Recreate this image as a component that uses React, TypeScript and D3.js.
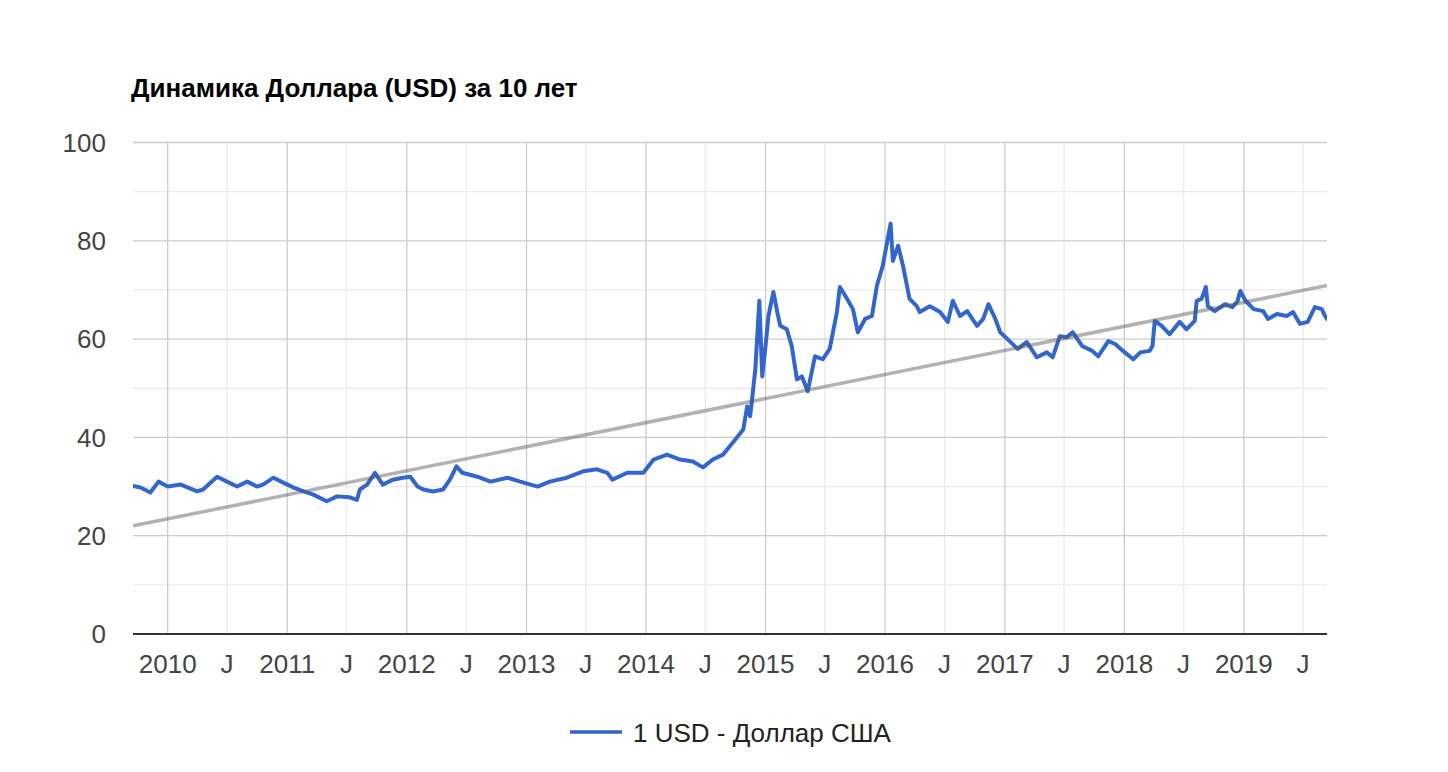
import React from "react";
import * as d3 from "d3";

const dates: string[] = [
  "2009-09-17","2009-10-10","2009-11-09","2009-12-04","2010-01-01","2010-02-10","2010-04-01","2010-04-19",
  "2010-06-01","2010-07-01","2010-08-01","2010-09-01","2010-10-01","2010-10-19","2010-11-20","2010-12-20",
  "2011-01-20","2011-02-20","2011-03-20","2011-05-02","2011-06-02","2011-07-11","2011-08-02","2011-08-11",
  "2011-09-02","2011-09-26","2011-10-20","2011-11-20","2011-12-20","2012-01-12","2012-02-03","2012-02-21",
  "2012-03-21","2012-04-21","2012-05-12","2012-06-01","2012-06-19","2012-08-04","2012-09-13","2012-11-04",
  "2012-12-13","2013-02-04","2013-03-13","2013-05-04","2013-06-23","2013-08-04","2013-09-05","2013-09-20",
  "2013-11-05","2013-12-24","2014-01-24","2014-03-06","2014-04-15","2014-05-24","2014-06-24","2014-07-24",
  "2014-08-24","2014-09-24","2014-10-25","2014-11-06","2014-11-15","2014-11-21","2014-12-01","2014-12-13",
  "2014-12-22","2015-01-01","2015-01-10","2015-01-25","2015-02-06","2015-02-15","2015-03-07","2015-03-22",
  "2015-04-07","2015-04-22","2015-05-10","2015-06-01","2015-06-25","2015-07-16","2015-08-07","2015-08-16",
  "2015-09-07","2015-09-25","2015-10-10","2015-11-01","2015-11-22","2015-12-07","2015-12-25","2016-01-18",
  "2016-01-25","2016-02-10","2016-02-25","2016-03-16","2016-04-07","2016-04-16","2016-05-17","2016-06-17",
  "2016-07-11","2016-07-26","2016-08-17","2016-09-08","2016-10-08","2016-10-27","2016-11-12","2016-12-03",
  "2016-12-18","2017-01-09","2017-02-09","2017-03-09","2017-04-09","2017-05-09","2017-05-27","2017-06-18",
  "2017-07-09","2017-07-27","2017-08-25","2017-09-25","2017-10-13","2017-11-13","2017-12-04","2017-12-28",
  "2018-01-28","2018-02-19","2018-03-19","2018-03-28","2018-04-04","2018-04-25","2018-05-19","2018-06-19",
  "2018-07-10","2018-08-04","2018-08-10","2018-08-25","2018-09-07","2018-09-13","2018-10-04","2018-11-04",
  "2018-11-27","2018-12-12","2018-12-21","2019-01-06","2019-01-31","2019-03-01","2019-03-16","2019-04-12",
  "2019-05-12","2019-05-31","2019-06-21","2019-07-15","2019-08-06","2019-08-27","2019-09-06","2019-09-12",
];

const values: number[] = [
  30.1, 29.8, 28.8, 31.0, 30.0, 30.4, 29.0, 29.4,
  32.0, 31.0, 30.0, 31.0, 30.0, 30.4, 31.8, 30.8,
  29.8, 29.0, 28.4, 27.0, 28.0, 27.8, 27.3, 29.4,
  30.4, 32.8, 30.4, 31.4, 31.8, 32.0, 30.0, 29.4,
  29.0, 29.4, 31.4, 34.1, 32.8, 32.0, 31.0, 31.8,
  31.0, 30.0, 31.0, 31.8, 33.1, 33.5, 32.8, 31.4,
  32.8, 32.8, 35.5, 36.5, 35.5, 35.1, 33.9, 35.5,
  36.5, 39.0, 41.6, 46.3, 44.3, 47.8, 53.9, 67.8,
  52.4, 58.6, 64.7, 69.6, 65.5, 62.7, 62.0, 58.6,
  51.8, 52.4, 49.4, 56.5, 55.9, 58.0, 65.5, 70.6,
  68.2, 66.1, 61.4, 64.1, 64.7, 70.8, 74.9, 83.5,
  75.9, 79.0, 74.9, 68.2, 66.7, 65.5, 66.7, 65.5,
  63.5, 67.8, 64.7, 65.7, 62.7, 64.1, 67.1, 64.1,
  61.4, 60.0, 58.0, 59.4, 56.3, 57.3, 56.3, 60.6,
  60.4, 61.4, 58.6, 57.6, 56.5, 59.6, 59.0, 57.6,
  55.9, 57.3, 57.6, 58.6, 63.7, 62.7, 61.0, 63.5,
  62.0, 63.7, 67.8, 68.2, 70.6, 66.7, 65.7, 67.1,
  66.5, 67.6, 69.8, 67.8, 66.1, 65.7, 64.1, 65.1,
  64.7, 65.5, 63.1, 63.5, 66.5, 66.1, 64.7, 64.1,
];

const yMajorTicks: number[] = [0, 20, 40, 60, 80, 100];
const yMinorTicks: number[] = [10, 30, 50, 70, 90];
const yearLabels: string[] = ["2010", "2011", "2012", "2013", "2014", "2015", "2016", "2017", "2018", "2019"];
const midYearLabel = "J";
const trendValues: number[] = [22.0, 70.9];
const domainDates: string[] = ["2009-09-17", "2019-09-12"];

const title = "Динамика Доллара (USD) за 10 лет";
const seriesName = "1 USD - Доллар США";

const W = 1448;
const H = 772;
const L = 133;
const R = 1327;
const T = 142.5;
const B = 634;

export default function App() {
  const parse = d3.timeParse("%Y-%m-%d");
  const x = d3
    .scaleTime()
    .domain(domainDates.map((d) => parse(d) as Date))
    .range([L, R]);
  const y = d3.scaleLinear().domain([0, 100]).range([B, T]);

  const pts = dates.map((d, i) => ({ date: parse(d) as Date, v: values[i] }));
  const line = d3
    .line<{ date: Date; v: number }>()
    .x((d) => x(d.date))
    .y((d) => y(d.v));

  const yearDates = yearLabels.map((s) => new Date(+s, 0, 1));
  const julyDates = yearLabels.map((s) => new Date(+s, 6, 1));

  const axisFont = "Arial, 'Liberation Sans', Helvetica, sans-serif";

  return (
    <svg
      width={W}
      height={H}
      style={{ position: "absolute", left: 0, top: 0, background: "#fff" }}
      fontFamily={axisFont}
    >
      <rect x={0} y={0} width={W} height={H} fill="#fff" />
      <text x={131} y={97} fontSize={26} fontWeight="bold" fill="#000">
        {title}
      </text>

      {/* minor horizontal gridlines */}
      {yMinorTicks.map((t) => (
        <line key={"ym" + t} x1={L} x2={R} y1={y(t)} y2={y(t)} stroke="#ebebeb" strokeWidth={1.3} />
      ))}
      {/* minor vertical gridlines */}
      {julyDates.map((d, i) => (
        <line key={"xm" + i} x1={x(d)} x2={x(d)} y1={T} y2={B} stroke="#ebebeb" strokeWidth={1.3} />
      ))}
      {/* major horizontal gridlines */}
      {yMajorTicks.map((t) => (
        <line key={"y" + t} x1={L} x2={R} y1={y(t)} y2={y(t)} stroke="#cccccc" strokeWidth={1.3} />
      ))}
      {/* major vertical gridlines */}
      {yearDates.map((d, i) => (
        <line key={"x" + i} x1={x(d)} x2={x(d)} y1={T} y2={B} stroke="#cccccc" strokeWidth={1.3} />
      ))}

      {/* y labels */}
      {yMajorTicks.map((t) => (
        <text key={"yl" + t} x={106} y={y(t) + 9.3} fontSize={26} textAnchor="end" fill="#444">
          {t}
        </text>
      ))}

      {/* x labels */}
      {yearDates.map((d, i) => (
        <text key={"xl" + i} x={x(d)} y={673} fontSize={26} textAnchor="middle" fill="#444">
          {yearLabels[i]}
        </text>
      ))}
      {julyDates.map((d, i) => (
        <text key={"xj" + i} x={x(d)} y={673} fontSize={26} textAnchor="middle" fill="#444">
          {midYearLabel}
        </text>
      ))}

      <defs>
        <clipPath id="plotClip">
          <rect x={L} y={T - 10} width={R - L} height={B - T + 10} />
        </clipPath>
      </defs>

      <g clipPath="url(#plotClip)">
        <path
          d={line(pts) || ""}
          fill="none"
          stroke="#3366cc"
          strokeWidth={4}
          strokeLinejoin="round"
          strokeLinecap="round"
        />
        <line
          x1={x(parse(domainDates[0]) as Date)}
          x2={x(parse(domainDates[1]) as Date)}
          y1={y(trendValues[0])}
          y2={y(trendValues[1])}
          stroke="#555"
          strokeOpacity={0.45}
          strokeWidth={3.5}
        />
      </g>

      {/* baseline */}
      <line x1={L} x2={R} y1={B} y2={B} stroke="#333" strokeWidth={1.8} />

      {/* legend */}
      <line x1={570} x2={622} y1={732} y2={732} stroke="#3366cc" strokeWidth={3.4} />
      <text x={633} y={742} fontSize={26} fill="#222">
        {seriesName}
      </text>
    </svg>
  );
}
